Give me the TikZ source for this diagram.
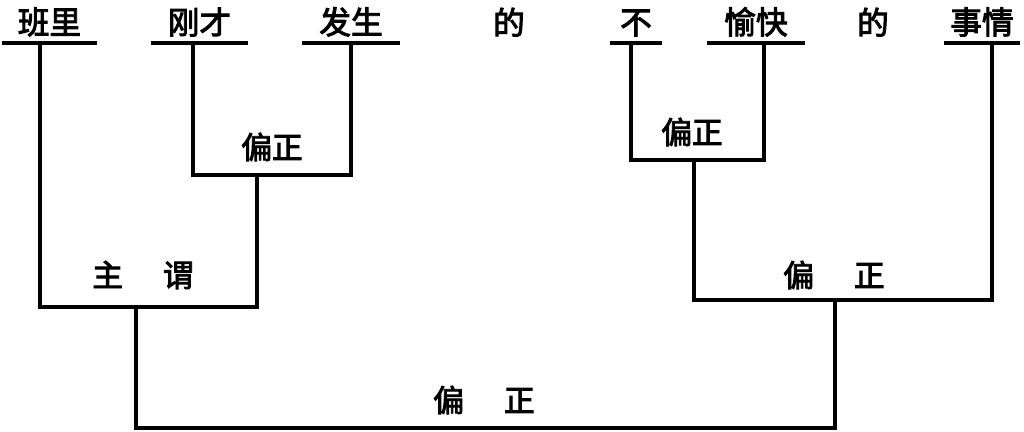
\documentclass[tikz,border=0pt]{standalone}
\usepackage{fontspec}
\newfontfamily\cjk[FakeBold=3]{Noto Sans CJK SC}
\usetikzlibrary{calc}
\tikzset{
	word/.style={font=\cjk\fontsize{18}{18}\selectfont, anchor=south, inner xsep=0pt, inner ysep=3.5pt},
	tag/.style={font=\cjk\fontsize{17.5}{17.5}\selectfont, inner sep=0pt},
	bracket/.style={line width=1.8pt},
}
\newcommand{\gap}{\hspace{1.3em}}

\begin{document}
\begin{tikzpicture}[x=0.2mm, y=-0.2mm]
			%%%%% START %%%%%
			\useasboundingbox (0, 0) rectangle (1024, 432);
			
			\node[word, minimum width=19mm] (banli) at (49.5, 43) {班里};
			\node[word, minimum width=19.4mm] (gangcai) at (199.5, 43) {刚才};
			\node[word, minimum width=19.6mm] (fasheng) at (351, 43) {发生};
			\node[word] (de1) at (509, 43) {的};
			\node[word, minimum width=10.4mm] (bu) at (636, 43) {不};
			\node[word, minimum width=19.6mm] (yukuai) at (756, 43) {愉快};
			\node[word] (de2) at (873, 43) {的};
			\node[word, minimum width=15.2mm] (shiqing) at (982, 43) {事情};
			
			\foreach \w in {banli, gangcai, fasheng, bu, yukuai, shiqing}
				\draw[bracket] (\w.south west) -- (\w.south east);
			
			\coordinate (banli-f) at (40, 43);
			\coordinate (gangcai-f) at (193, 43);
			\coordinate (fasheng-f) at (351, 43);
			\coordinate (bu-f) at (631, 43);
			\coordinate (yukuai-f) at (764, 43);
			\coordinate (shiqing-f) at (992, 43);
			
			% stems of the brackets
			\coordinate (b1) at (257, 175);
			\coordinate (b2) at (136, 307);
			\coordinate (b3) at (694, 160);
			\coordinate (b4) at (835, 300);
			\coordinate (b5) at (484, 428);
			
			\draw[bracket] (gangcai-f) |- (b1) -| (fasheng-f);
			\node[tag] (pz1) at (272, 147) {偏正};
			
			\draw[bracket] (banli-f) |- (b2) -| (b1);
			\node[tag] (zw) at (143, 275) {主\gap 谓};
			
			\draw[bracket] (bu-f) |- (b3) -| (yukuai-f);
			\node[tag] (pz2) at (692, 132) {偏正};
			
			\draw[bracket] (b3) |- (b4) -| (shiqing-f);
			\node[tag] (pz3) at (834, 275) {偏\gap 正};
			
			\draw[bracket] (b2) |- (b5) -| (b4);
			\node[tag] (pz4) at (484, 400) {偏\gap 正};
			%%%%% END %%%%%
\end{tikzpicture}
\end{document}
